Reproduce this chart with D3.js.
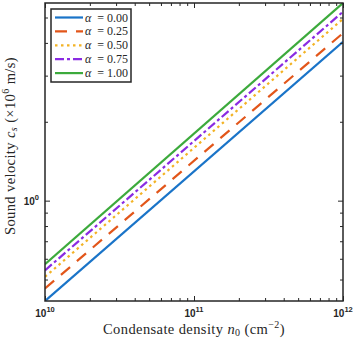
<!DOCTYPE html>
<html>
<head>
<meta charset="utf-8">
<script src="https://cdn.jsdelivr.net/npm/d3@7"></script>
<style>
  body { margin: 0; background: #fff; }
</style>
</head>
<body>
<script>
var svgWidth = 357
var svgHeight = 340

// data: c_s at both ends of the density range
var densities = [1e10, 1e12]
var alphaLabels = ['0.00', '0.25', '0.50', '0.75', '1.00']
var speedAlpha000 = [0.414, 4.04]
var speedAlpha025 = [0.462, 4.36]
var speedAlpha050 = [0.512, 4.94]
var speedAlpha075 = [0.542, 5.26]
var speedAlpha100 = [0.572, 5.68]
var xMajorTicks = [1e10, 1e11, 1e12]
var xTickExps = ['10', '11', '12']
var yMajorTicks = [1]
var yTickExps = ['0']

var seriesValues = [speedAlpha000, speedAlpha025, speedAlpha050, speedAlpha075, speedAlpha100]
var colors = ['#1a74c8', '#e2561a', '#f3b325', '#8a2be2', '#3caa3c']
var dashes = [null, '12,9', '2.5,3.5', '9,3,3,3', null]

var margin = { left: 45, right: 14, top: 3, bottom: 39 }
var plotW = svgWidth - margin.left - margin.right
var plotH = svgHeight - margin.top - margin.bottom

var svg = d3.select('body').append('svg')
  .attr('width', svgWidth)
  .attr('height', svgHeight)

var x = d3.scaleLog().domain([1e10, 1e12]).range([0, plotW])
var y = d3.scaleLog().domain([0.414, 5.68]).range([plotH, 0])

var g = svg.append('g').attr('transform', 'translate(' + margin.left + ',' + margin.top + ')')

g.append('clipPath').attr('id', 'clip')
  .append('rect').attr('width', plotW).attr('height', plotH)

// lines
var line = d3.line()
  .x(d => x(d[0]))
  .y(d => y(d[1]))

var linesGroup = g.append('g').attr('clip-path', 'url(#clip)')
seriesValues.forEach(function (vals, i) {
  var pts = densities.map((n, j) => [n, vals[j]])
  linesGroup.append('path')
    .attr('d', line(pts))
    .attr('fill', 'none')
    .attr('stroke', colors[i])
    .attr('stroke-width', 2.2)
    .attr('stroke-dasharray', dashes[i])
})

// minor ticks
var xMinor = []
;[1e10, 1e11].forEach(function (b) { for (var k = 2; k <= 9; k++) xMinor.push(b * k) })
var yMinor = [0.5, 0.6, 0.7, 0.8, 0.9, 2, 3, 4, 5]

function drawAxis(axis, transform) {
  var a = g.append('g').attr('transform', transform).call(axis)
  a.select('.domain').remove()
  a.selectAll('line').attr('stroke', '#262626').attr('stroke-width', 1)
  a.selectAll('text').remove()
}

drawAxis(d3.axisBottom(x).tickValues(xMajorTicks).tickSize(-5), 'translate(0,' + plotH + ')')
drawAxis(d3.axisBottom(x).tickValues(xMinor).tickSize(-3), 'translate(0,' + plotH + ')')
drawAxis(d3.axisTop(x).tickValues(xMajorTicks).tickSize(-5), 'translate(0,0)')
drawAxis(d3.axisTop(x).tickValues(xMinor).tickSize(-3), 'translate(0,0)')
drawAxis(d3.axisLeft(y).tickValues(yMajorTicks).tickSize(-5), 'translate(0,0)')
drawAxis(d3.axisLeft(y).tickValues(yMinor).tickSize(-3), 'translate(0,0)')
drawAxis(d3.axisRight(y).tickValues(yMajorTicks).tickSize(-5), 'translate(' + plotW + ',0)')
drawAxis(d3.axisRight(y).tickValues(yMinor).tickSize(-3), 'translate(' + plotW + ',0)')

// frame
g.append('rect')
  .attr('width', plotW)
  .attr('height', plotH)
  .attr('fill', 'none')
  .attr('stroke', '#262626')
  .attr('stroke-width', 1.5)

// tick labels
var tickFont = 'Liberation Sans, Arial, sans-serif'
xMajorTicks.forEach(function (t, i) {
  var txt = g.append('text')
    .attr('x', x(t))
    .attr('y', plotH + 16)
    .attr('text-anchor', 'middle')
    .attr('font-family', tickFont)
    .attr('font-weight', 'bold')
    .attr('font-size', 10)
    .attr('fill', '#262626')
  txt.append('tspan').text('10')
  txt.append('tspan').attr('dy', -5).attr('font-size', 7.5).text(xTickExps[i])
})
yMajorTicks.forEach(function (t, i) {
  var txt = g.append('text')
    .attr('x', -6)
    .attr('y', y(t) + 4)
    .attr('text-anchor', 'end')
    .attr('font-family', tickFont)
    .attr('font-weight', 'bold')
    .attr('font-size', 10)
    .attr('fill', '#262626')
  txt.append('tspan').text('10')
  txt.append('tspan').attr('dy', -5).attr('font-size', 7.5).text(yTickExps[i])
})

// axis labels
var labelFont = 'Liberation Serif, Times New Roman, serif'
var xl = svg.append('text')
  .attr('x', margin.left + plotW / 2)
  .attr('y', 334)
  .attr('text-anchor', 'middle')
  .attr('font-family', labelFont)
  .attr('font-size', 14.5)
  .attr('letter-spacing', 0.4)
  .attr('fill', '#262626')
xl.append('tspan').text('Condensate density ')
xl.append('tspan').attr('font-style', 'italic').text('n')
xl.append('tspan').attr('font-size', 10).attr('dy', 2).text('0')
xl.append('tspan').attr('dy', -2).text(' (cm')
xl.append('tspan').attr('font-size', 10).attr('dy', -6).text('\u22122')
xl.append('tspan').attr('dy', 6).text(')')

var yl = svg.append('text')
  .attr('transform', 'translate(15,' + 146 + ') rotate(-90)')
  .attr('text-anchor', 'middle')
  .attr('font-family', labelFont)
  .attr('font-size', 14.5)
  .attr('letter-spacing', 0.4)
  .attr('fill', '#262626')
yl.append('tspan').text('Sound velocity ')
yl.append('tspan').attr('font-style', 'italic').text('c')
yl.append('tspan').attr('font-style', 'italic').attr('font-size', 10).attr('dy', 2).text('s')
yl.append('tspan').attr('dy', -2).text(' (\u00d710')
yl.append('tspan').attr('font-size', 10).attr('dy', -6).text('6')
yl.append('tspan').attr('dy', 6).text(' m/s)')

// legend
var legend = svg.append('g').attr('transform', 'translate(51,9)')
legend.append('rect')
  .attr('width', 80)
  .attr('height', 73)
  .attr('fill', '#fff')
  .attr('stroke', '#262626')
  .attr('stroke-width', 1.5)

alphaLabels.forEach(function (lab, i) {
  var ly = 8.5 + i * 13.9
  legend.append('line')
    .attr('x1', 4).attr('x2', 32)
    .attr('y1', ly).attr('y2', ly)
    .attr('stroke', colors[i])
    .attr('stroke-width', 2.2)
    .attr('stroke-dasharray', dashes[i])
  var t = legend.append('text')
    .attr('x', 34)
    .attr('y', ly + 4)
    .attr('font-family', labelFont)
    .attr('font-size', 12)
    .attr('fill', '#262626')
  t.append('tspan').attr('font-style', 'italic').text('\u03b1')
  t.append('tspan').text('\u2002= ' + lab)
})
</script>
</body>
</html>
